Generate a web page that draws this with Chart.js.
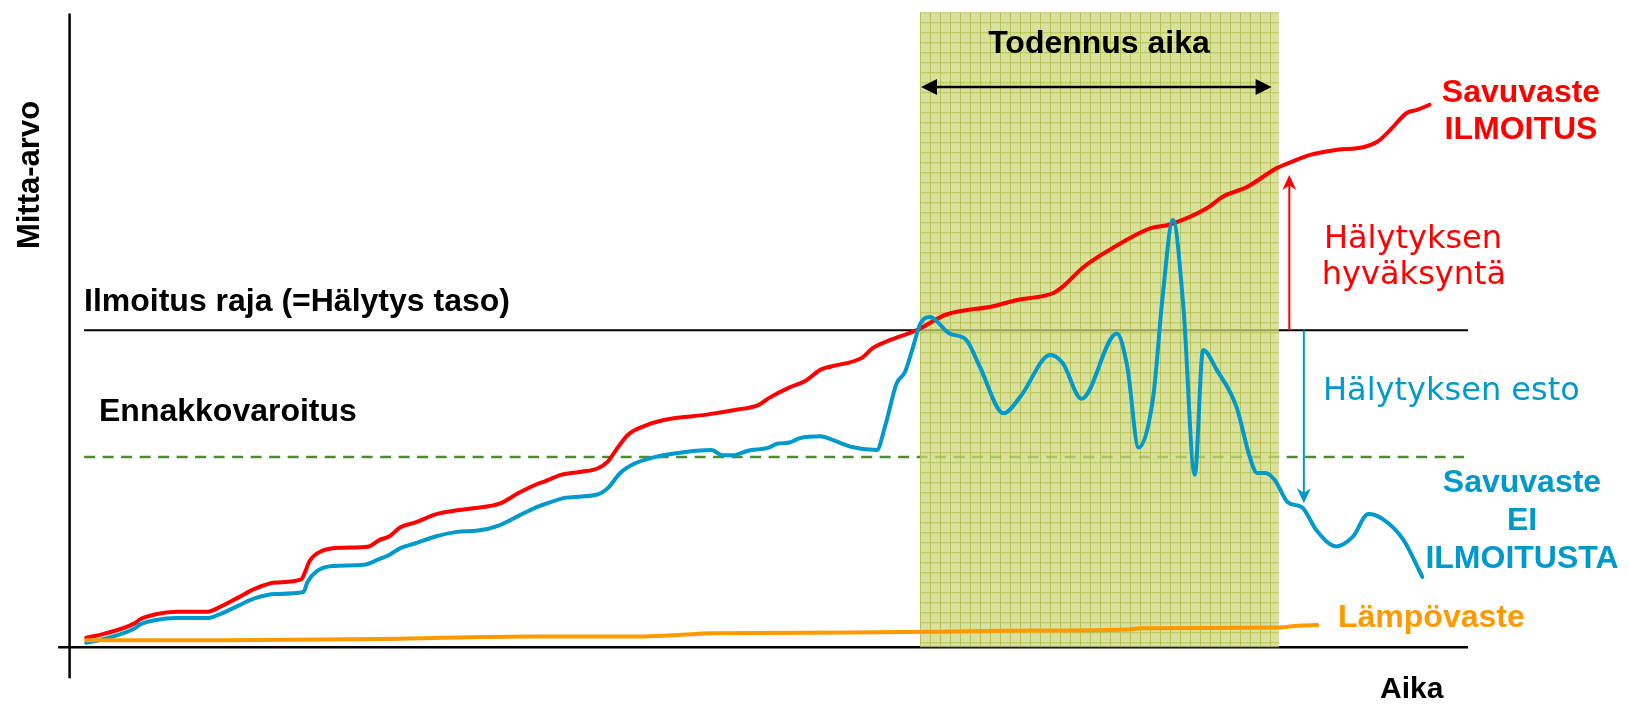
<!DOCTYPE html>
<html>
<head>
<meta charset="utf-8">
<script src="https://cdn.jsdelivr.net/npm/chart.js@4.4.1/dist/chart.umd.min.js"></script>
<style>
html, body { margin: 0; padding: 0; background: #fff; }
#wrap { width: 1629px; height: 704px; position: relative; }
</style>
</head>
<body>
<div id="wrap"><canvas id="myChart"></canvas></div>
<script>
// aika (time) runs 0..134.6, mitta-arvo 0..100
const smokeAlarmX = [1.6, 3.3, 6.3, 6.8, 8.3, 10.3, 13.3, 14.3, 16.3, 17.8, 19.8, 22.3, 22.6, 23.1, 24.3, 26.3, 28.8, 29.8, 30.8, 31.8,
    33.3, 35.3, 37.3, 39.3, 41.3, 43.3, 44.8, 45.8, 47.3, 49.3, 50.8, 51.8, 52.8, 53.8, 55.3, 57.3, 61.3, 64.3, 66.3, 67.3,
    69.3, 70.8, 72.3, 73.3, 76.3, 77.3, 79.0, 81.5, 84.4, 88.9, 91.2, 94.7, 95.6, 97.6, 100.4, 104.0, 105.9, 109.5, 111.0, 113.3,
    116.2, 117.8, 119.4, 122.0, 124.5, 125.9, 127.1, 128.7, 129.7, 130.9];
const smokeAlarmY = [1.5, 2.1, 3.8, 4.4, 5.2, 5.6, 5.6, 6.2, 7.9, 9.2, 10.2, 10.7, 11.6, 13.6, 15.2, 15.7, 15.9, 16.9, 17.5, 18.9,
    19.7, 21.0, 21.6, 22.0, 22.6, 24.4, 25.6, 26.2, 27.2, 27.7, 28.2, 29.3, 31.6, 33.6, 34.9, 35.9, 36.7, 37.5, 38.2, 39.3,
    41.0, 42.0, 43.8, 44.3, 45.7, 47.2, 48.5, 50.0, 52.5, 53.8, 54.8, 55.9, 56.9, 60.0, 63.0, 66.1, 66.7, 69.3, 71.1, 72.6,
    75.6, 76.7, 77.7, 78.5, 78.9, 79.8, 81.6, 84.3, 84.8, 85.6];

const smokeNoAlarmX = [1.6, 3.3, 6.3, 6.8, 8.3, 10.3, 13.3, 14.3, 16.3, 17.8, 19.8, 22.5, 22.9, 23.8, 25.3, 28.3, 29.8, 30.8, 31.8, 33.3,
    35.3, 37.3, 39.3, 41.3, 43.3, 44.8, 45.8, 47.8, 50.8, 51.8, 53.0, 54.3, 56.3, 59.3, 61.8, 62.8, 63.8, 65.3, 67.3, 68.1,
    69.3, 70.3, 72.3, 73.3, 75.3, 77.7, 78.5, 79.6, 80.4, 81.1, 81.9, 82.8, 84.7, 86.3, 87.6, 89.9, 91.5, 94.4, 95.6, 97.4,
    100.8, 101.8, 102.9, 104.3, 105.2, 106.2, 107.2, 108.3, 109.1, 110.4, 112.3, 113.6, 114.3, 115.1, 116.0, 117.3, 118.6, 120.0,
    121.9, 123.5, 125.0, 126.4, 128.4, 130.2];
const smokeNoAlarmY = [0.7, 1.3, 3.0, 3.6, 4.3, 4.6, 4.6, 5.1, 6.6, 7.7, 8.4, 8.7, 10.3, 12.0, 12.8, 13.0, 13.9, 14.6, 15.6, 16.4,
    17.5, 18.2, 18.4, 19.2, 20.8, 22.0, 22.6, 23.6, 24.1, 25.1, 27.5, 28.9, 30.0, 30.8, 31.1, 30.3, 30.3, 31.0, 31.5, 32.1,
    32.3, 33.0, 33.3, 32.8, 31.6, 31.1, 34.9, 41.6, 43.4, 46.9, 51.1, 52.1, 49.5, 48.5, 44.3, 36.9, 39.5, 46.1, 44.8, 39.2,
    49.5, 44.3, 31.5, 39.5, 55.2, 67.4, 53.8, 27.2, 46.9, 43.8, 38.0, 30.0, 27.5, 27.5, 26.4, 22.8, 22.1, 18.5,
    15.9, 17.4, 21.0, 20.2, 16.9, 11.1];

const heatX = [1.6, 15, 30, 45, 55, 58, 62, 75, 90, 101.8, 103.3, 116.3, 118.3, 120.1];
const heatY = [1.1, 1.1, 1.3, 1.7, 1.7, 1.9, 2.2, 2.3, 2.6, 2.8, 3.0, 3.1, 3.4, 3.5];

const alarmLevel = 50;        // Ilmoitus raja
const preWarningLevel = 30;   // Ennakkovaroitus
const verifyStart = 81.85;    // Todennus aika
const verifyEnd = 116.4;
const timeMax = 134.6;
const valueMax = 100;

const RED = '#ff0000';
const BLUE = '#0099cc';
const ORANGE = '#ff9900';

function toPoints(xs, ys) {
    return xs.map((v, i) => ({ x: v, y: ys[i] }));
}

// grid texture for the verification period
function makePattern() {
    const c = document.createElement('canvas');
    c.width = 10; c.height = 10;
    const g = c.getContext('2d');
    g.fillStyle = 'rgba(205,214,125,0.75)';
    g.fillRect(0, 0, 10, 10);
    g.fillStyle = 'rgba(165,185,45,0.7)';
    g.fillRect(0, 0, 10, 1);
    g.fillRect(0, 1, 1, 9);
    return c;
}

function arrowHead(ctx, tx, ty, dx, dy, len, half) {
    // tip at (tx,ty), pointing in direction (dx,dy)
    const bx = tx - dx * len, by = ty - dy * len;
    ctx.beginPath();
    ctx.moveTo(tx, ty);
    ctx.lineTo(bx - dy * half, by + dx * half);
    ctx.lineTo(tx - dx * len * 0.7, ty - dy * len * 0.7);
    ctx.lineTo(bx + dy * half, by - dx * half);
    ctx.closePath();
    ctx.fill();
}

const BOLD = 'bold 32px "Liberation Sans"';
const PLAIN = '32px "DejaVu Sans"';
const labels = [
    { text: 'Ilmoitus raja (=Hälytys taso)', x: 84, y: 311, align: 'left', font: BOLD, color: '#000' },
    { text: 'Ennakkovaroitus', x: 99, y: 421, align: 'left', font: BOLD, color: '#000' },
    { text: 'Todennus aika', x: 1099, y: 53, align: 'center', font: BOLD, color: '#000' },
    { text: 'Aika', x: 1380, y: 698, align: 'left', font: 'bold 30px "Liberation Sans"', color: '#000' },
    { text: 'Savuvaste', x: 1521, y: 102, align: 'center', font: BOLD, color: RED },
    { text: 'ILMOITUS', x: 1521, y: 139, align: 'center', font: BOLD, color: RED },
    { text: 'Hälytyksen', x: 1413, y: 248, align: 'center', font: PLAIN, color: RED },
    { text: 'hyväksyntä', x: 1414, y: 284, align: 'center', font: PLAIN, color: RED },
    { text: 'Hälytyksen esto', x: 1323, y: 400, align: 'left', font: PLAIN, color: BLUE },
    { text: 'Savuvaste', x: 1522, y: 492, align: 'center', font: BOLD, color: BLUE },
    { text: 'EI', x: 1522, y: 530, align: 'center', font: BOLD, color: BLUE },
    { text: 'ILMOITUSTA', x: 1522, y: 568, align: 'center', font: BOLD, color: BLUE },
    { text: 'Lämpövaste', x: 1338, y: 627, align: 'left', font: BOLD, color: ORANGE }
];

const extras = {
    id: 'extras',
    beforeDatasetsDraw(chart) {
        const { ctx, scales: { x, y } } = chart;
        const line = (x1, y1, x2, y2) => {
            ctx.beginPath();
            ctx.moveTo(x.getPixelForValue(x1), y.getPixelForValue(y1));
            ctx.lineTo(x.getPixelForValue(x2), y.getPixelForValue(y2));
            ctx.stroke();
        };
        ctx.save();
        ctx.strokeStyle = '#000';
        ctx.lineWidth = 2.5;
        line(0, valueMax, 0, -4.9);
        line(-1.1, 0, timeMax, 0);
        ctx.lineWidth = 2;
        line(1.4, alarmLevel, timeMax, alarmLevel);
        ctx.strokeStyle = '#4e8a32';
        ctx.lineWidth = 2.5;
        ctx.setLineDash([11, 7.5]);
        line(1.4, preWarningLevel, timeMax, preWarningLevel);
        ctx.setLineDash([]);

        // verification period
        const left = x.getPixelForValue(verifyStart);
        const right = x.getPixelForValue(verifyEnd);
        const top = y.getPixelForValue(100.2);
        const bottom = y.getPixelForValue(0);
        ctx.translate(left, top);
        ctx.fillStyle = ctx.createPattern(makePattern(), 'repeat');
        ctx.fillRect(0, 0, right - left, bottom - top);
        ctx.restore();
    },
    afterDatasetsDraw(chart) {
        const { ctx, scales: { x, y } } = chart;
        ctx.save();
        // double arrow
        const ay = y.getPixelForValue(88.4);
        const ax1 = x.getPixelForValue(81.95), ax2 = x.getPixelForValue(115.7);
        ctx.strokeStyle = '#000'; ctx.fillStyle = '#000'; ctx.lineWidth = 2.5;
        ctx.beginPath(); ctx.moveTo(ax1 + 8, ay); ctx.lineTo(ax2 - 8, ay); ctx.stroke();
        ctx.beginPath(); ctx.moveTo(ax1, ay); ctx.lineTo(ax1 + 16, ay - 8); ctx.lineTo(ax1 + 16, ay + 8); ctx.closePath(); ctx.fill();
        ctx.beginPath(); ctx.moveTo(ax2, ay); ctx.lineTo(ax2 - 16, ay - 8); ctx.lineTo(ax2 - 16, ay + 8); ctx.closePath(); ctx.fill();

        // alarm acceptance (up) and alarm block (down)
        const rx = x.getPixelForValue(117.4), rTop = y.getPixelForValue(74.5);
        ctx.strokeStyle = RED; ctx.fillStyle = RED; ctx.lineWidth = 2;
        ctx.beginPath(); ctx.moveTo(rx, y.getPixelForValue(alarmLevel)); ctx.lineTo(rx, rTop + 8); ctx.stroke();
        arrowHead(ctx, rx, rTop, 0, -1, 15, 7);

        const bx = x.getPixelForValue(118.8), bBot = y.getPixelForValue(22.7);
        ctx.strokeStyle = BLUE; ctx.fillStyle = BLUE; ctx.lineWidth = 2;
        ctx.beginPath(); ctx.moveTo(bx, y.getPixelForValue(alarmLevel)); ctx.lineTo(bx, bBot - 8); ctx.stroke();
        arrowHead(ctx, bx, bBot, 0, 1, 15, 7);

        // texts
        ctx.textBaseline = 'alphabetic';
        labels.forEach(l => {
            ctx.font = l.font;
            ctx.fillStyle = l.color;
            ctx.textAlign = l.align;
            ctx.fillText(l.text, l.x, l.y);
        });
        ctx.translate(39, 175);
        ctx.rotate(-Math.PI / 2);
        ctx.font = 'bold 31px "Liberation Sans"';
        ctx.fillStyle = '#000';
        ctx.textAlign = 'center';
        ctx.fillText('Mitta-arvo', 0, 0);
        ctx.restore();
    }
};

const ctx = document.getElementById('myChart').getContext('2d');
const myChart = new Chart(ctx, {
    type: 'line',
    data: {
        datasets: [{
            label: 'Lämpövaste',
            data: toPoints(heatX, heatY),
            borderColor: ORANGE,
            borderWidth: 4
        }, {
            label: 'Savuvaste EI ILMOITUSTA',
            data: toPoints(smokeNoAlarmX, smokeNoAlarmY),
            borderColor: BLUE,
            borderWidth: 4
        }, {
            label: 'Savuvaste ILMOITUS',
            data: toPoints(smokeAlarmX, smokeAlarmY),
            borderColor: RED,
            borderWidth: 4
        }]
    },
    options: {
        responsive: true,
        maintainAspectRatio: false,
        animation: false,
        layout: { padding: { left: 69.6, right: 161, top: 13.5, bottom: 56.8 } },
        elements: {
            point: { radius: 0 },
            line: { cubicInterpolationMode: 'monotone', borderCapStyle: 'round', borderJoinStyle: 'round' }
        },
        plugins: { legend: { display: false }, tooltip: { enabled: false } },
        scales: {
            x: { type: 'linear', min: 0, max: timeMax, display: false },
            y: { min: 0, max: valueMax, display: false }
        }
    },
    plugins: [extras]
});
</script>
</body>
</html>
